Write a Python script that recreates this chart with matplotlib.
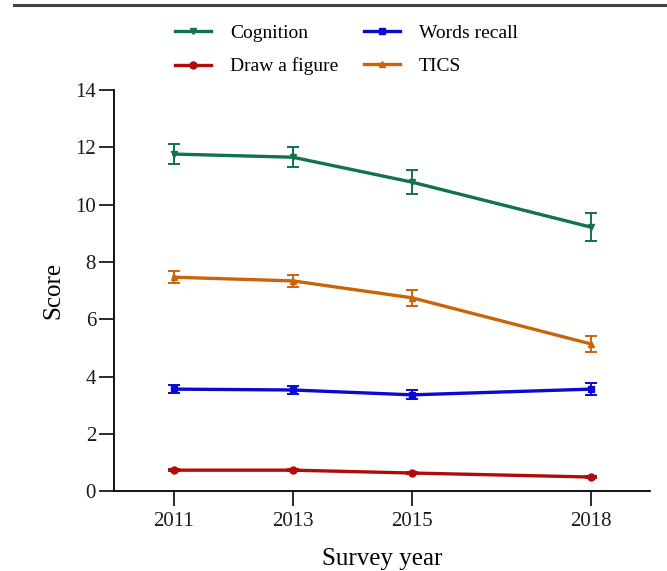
import matplotlib.pyplot as plt
from matplotlib.lines import Line2D

plt.rcParams['font.family'] = ['Liberation Serif', 'DejaVu Serif']

years = [2011, 2013, 2015, 2018]

cognition = [11.77, 11.66, 10.79, 9.22]
cognition_err = [0.35, 0.35, 0.42, 0.49]
words_recall = [3.56, 3.53, 3.36, 3.56]
words_recall_err = [0.15, 0.15, 0.16, 0.22]
draw_figure = [0.73, 0.73, 0.63, 0.49]
draw_figure_err = [0.03, 0.03, 0.03, 0.03]
tics = [7.47, 7.34, 6.75, 5.14]
tics_err = [0.22, 0.22, 0.28, 0.28]

series = [
    ("Cognition", cognition, cognition_err, "#11734b", "v"),
    ("Words recall", words_recall, words_recall_err, "#0a0ad2", "s"),
    ("Draw a figure", draw_figure, draw_figure_err, "#b00a0a", "o"),
    ("TICS", tics, tics_err, "#c8640a", "^"),
]

fig = plt.figure(figsize=(6.67, 5.71), dpi=100)
ax = fig.add_axes([0.171, 0.140, 0.804, 0.702])

handles = {}
for name, vals, errs, color, marker in series:
    ax.errorbar(years, vals, yerr=errs, color=color, marker=marker,
                markersize=5, linewidth=2.4, elinewidth=1.4,
                capsize=4.5, capthick=1.4)
    handles[name] = Line2D([], [], color=color, marker=marker,
                           markersize=5, linewidth=2.4)

ax.set_xlim(2010, 2019)
ax.set_ylim(0, 14)
ax.set_xticks(years)
ax.set_yticks(range(0, 15, 2))
ax.tick_params(labelsize=15, length=11, width=1.3, pad=2, colors='#1a1a1a')
ax.tick_params(axis='x', pad=4)
ax.spines['top'].set_visible(False)
ax.spines['right'].set_visible(False)
ax.spines['left'].set_linewidth(1.3)
ax.spines['bottom'].set_linewidth(1.3)
ax.set_xlabel("Survey year", fontsize=18, labelpad=12)
ax.set_ylabel("Score", fontsize=18, labelpad=8)

# legend fills column-wise, so order gives rows Cognition/Words recall, Draw a figure/TICS
order = ["Cognition", "Draw a figure", "Words recall", "TICS"]
ax.legend([handles[n] for n in order], order, loc='lower center',
          bbox_to_anchor=(0.433, 1.003), ncol=2, frameon=False, fontsize=14,
          handlelength=1.85, columnspacing=1.3, handletextpad=1.0,
          labelspacing=0.8, borderaxespad=0.3)

# rule across the top of the figure
fig.add_artist(Line2D([0.021, 1.0], [0.991, 0.991], color='#444444',
                      linewidth=2.2, transform=fig.transFigure))

fig.savefig("out.png", dpi=100)
